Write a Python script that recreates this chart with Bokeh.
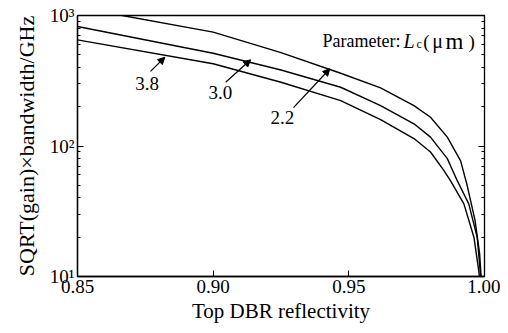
from bokeh.plotting import figure
from bokeh.models import Range1d, FixedTicker, LinearAxis, Arrow, NormalHead, ColumnDataSource
from bokeh.core.properties import value
from bokeh.embed import file_html
from bokeh.resources import INLINE

# Curve Lc = 2.2 um
refl_22 = [0.85, 0.8665, 0.90, 0.925, 0.947, 0.9617, 0.974, 0.9801, 0.9863, 0.9912, 0.9936, 0.9965, 0.9982, 0.9992]
gbw_22 = [1156, 1000, 745, 520, 361, 279, 204, 166, 117, 77, 50, 27, 15, 7]
# Curve Lc = 3.0 um
refl_30 = [0.85, 0.90, 0.925, 0.947, 0.9617, 0.974, 0.9801, 0.9863, 0.9900, 0.9942, 0.9973, 0.9986, 0.9993]
gbw_30 = [824, 514, 382, 282, 204, 148, 117, 80, 54, 36, 20, 10, 6]
# Curve Lc = 3.8 um
refl_38 = [0.85, 0.90, 0.925, 0.947, 0.9617, 0.974, 0.9801, 0.985, 0.9875, 0.9924, 0.9961, 0.9979, 0.9993]
gbw_38 = [651, 427, 308, 223, 159, 114, 90, 65, 54, 36, 20, 11, 6]

x_ticks = [0.85, 0.90, 0.95, 1.00]
x_tick_labels = ["0.85", "0.90", "0.95", "1.00"]
y_ticks = [10, 100, 1000]
y_minor_ticks = [20, 30, 40, 50, 60, 70, 80, 90, 200, 300, 400, 500, 600, 700, 800, 900]
y_tick_labels = ["10\u00b9", "10\u00b2", "10\u00b3"]

# curve labels and arrows
curve_labels = ["3.8", "3.0", "2.2"]
label_x = [0.8757, 0.9027, 0.9255]
label_y = [300, 258, 166]
arrow_x0 = [0.8769, 0.9046, 0.9296]
arrow_y0 = [373, 308, 197]
arrow_x1 = [0.8822, 0.9138, 0.9430]
arrow_y1 = [479, 458, 391]

# "Parameter: Lc(μm)" annotation pieces
param_text = ["Parameter:", "L", "c", "(", "\u03bc", "m", ")"]
param_x = [0.94031, 0.97016, 0.97495, 0.97742, 0.98074, 0.98564, 0.99412]
param_y = [635, 635, 600, 635, 635, 635, 635]
param_size = ["18px", "20px", "12px", "19px", "20px", "23px", "19px"]
param_style = ["normal", "italic", "normal", "normal", "normal", "normal", "normal"]

FONT = "Liberation Serif"

p = figure(width=500, height=325, y_axis_type="log",
           x_range=Range1d(0.85, 1.0), y_range=Range1d(10, 1000),
           output_backend="svg", toolbar_location=None,
           min_border_left=77, min_border_right=16, min_border_top=15, min_border_bottom=48)

p.background_fill_color = "white"
p.border_fill_color = "white"
p.outline_line_color = "black"
p.outline_line_width = 1.3
p.xgrid.visible = False
p.ygrid.visible = False

for xs, ys in [(refl_22, gbw_22), (refl_30, gbw_30), (refl_38, gbw_38)]:
    p.line(xs, ys, line_color="black", line_width=1.4)

# axes
xa = p.xaxis[0]
xa.ticker = FixedTicker(ticks=x_ticks)
xa.major_label_overrides = {t: l for t, l in zip(x_ticks, x_tick_labels)}
xa.axis_label = "Top DBR reflectivity"
ya = p.yaxis[0]
ya.ticker = FixedTicker(ticks=y_ticks, minor_ticks=y_minor_ticks)
ya.major_label_overrides = {t: l for t, l in zip(y_ticks, y_tick_labels)}
ya.axis_label = "SQRT(gain)\u00d7bandwidth/GHz"

for ax in (xa, ya):
    ax.axis_line_color = "black"
    ax.axis_line_width = 1.3
    ax.major_tick_in = 6
    ax.major_tick_out = 0
    ax.minor_tick_in = 3
    ax.minor_tick_out = 0
    ax.major_tick_line_color = "black"
    ax.minor_tick_line_color = "black"
    ax.major_label_text_font = FONT
    ax.major_label_text_font_size = "19px"
    ax.major_label_text_color = "black"
    ax.axis_label_text_font = FONT
    ax.axis_label_text_font_style = "normal"
    ax.axis_label_text_color = "black"
    ax.major_label_standoff = 3
    ax.axis_label_standoff = 3
xa.axis_label_text_font_size = "21px"
ya.axis_label_text_font_size = "22px"
ya.axis_label_standoff = 8
xa.minor_tick_line_color = None

# right axis: ticks only
ra = LinearAxis(ticker=FixedTicker(ticks=y_ticks, minor_ticks=y_minor_ticks),
                major_label_overrides={t: "" for t in y_ticks},
                major_tick_in=6, major_tick_out=0, minor_tick_in=3, minor_tick_out=0,
                axis_line_color="black", major_label_standoff=0)
p.add_layout(ra, "right")

# curve labels
p.text(x=label_x, y=label_y, text=curve_labels, text_font=value(FONT),
       text_font_size=value("19px"), text_align="center", text_baseline="middle",
       text_color="black")
for x0, y0, x1, y1 in zip(arrow_x0, arrow_y0, arrow_x1, arrow_y1):
    p.add_layout(Arrow(end=NormalHead(size=7, fill_color="black", line_color="black"),
                       x_start=x0, y_start=y0, x_end=x1, y_end=y1,
                       line_color="black", line_width=1.2))

# parameter annotation
psrc = ColumnDataSource(dict(x=param_x, y=param_y, text=param_text,
                             size=param_size, style=param_style))
p.text(x="x", y="y", text="text", source=psrc, text_font=value(FONT),
       text_font_size="size", text_font_style="style",
       text_align="left", text_baseline="alphabetic", text_color="black")

open("out.html", "w").write(file_html(p, INLINE))
